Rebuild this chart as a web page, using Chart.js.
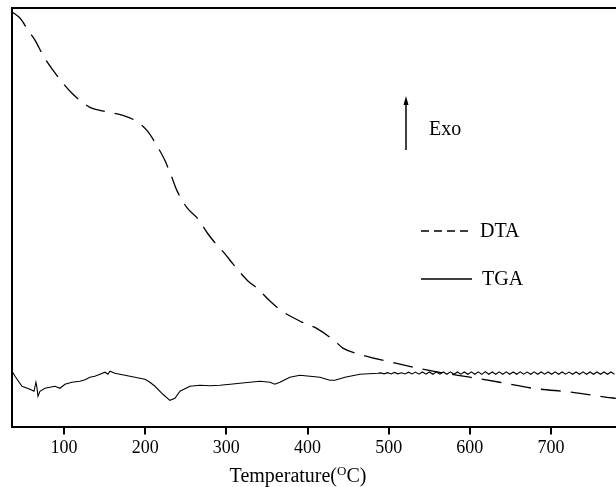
<!DOCTYPE html>
<html>
<head>
<meta charset="utf-8">
<script src="https://cdn.jsdelivr.net/npm/chart.js@4.4.1/dist/chart.umd.min.js"></script>
<style>
  html, body { margin: 0; padding: 0; background: #fff; }
  #wrap { width: 616px; height: 487px; position: relative; }
</style>
</head>
<body>
<div id="wrap"><canvas id="c" width="616" height="487"></canvas></div>
<script>
// ---- data (arbitrary signal units) ----
const tickValues = [100, 200, 300, 400, 500, 600, 700];
const xTitle = ['Temperature(', 'O', 'C)'];
const annotationText = 'Exo';

const dtaTemp = [36, 45.8, 55.7, 64.3, 74.1, 86.5, 98.8, 109.9, 119.7, 132.0,
  144.3, 156.6, 172.7, 187.4, 202.2, 215.8, 224.4, 233.0, 239.2, 251.5,
  263.8, 277.3, 286.0, 298.3, 308.1, 326.6, 337.7, 353.7, 368.5, 393.1,
  412.8, 433.7, 443.6, 468.2, 513.8, 554.4, 600.0, 636.9, 677.6, 726.8,
  768.7, 779.8];
const dtaSignal = [414, 408, 396, 386, 371, 356, 343, 333, 326, 319,
  316, 314, 311, 306, 296, 279, 266, 249, 236, 219,
  209, 193, 184, 173, 163, 146, 139, 126, 116, 105,
  98, 86, 79, 72, 63, 56, 50, 45, 39, 35,
  30, 29];

const tgaTemp = [36, 39.7, 48.3, 58.1, 63.1, 65.5, 66.7, 68.0, 70.4, 76.6,
  82.8, 88.9, 95.1, 101.2, 109.9, 119.7, 126.0, 132.0, 138.0, 144.3, 150.5, 154.2,
  156.6, 162.8, 168.9, 187.4, 199.7, 205.9, 212.1, 221.9, 230.5, 236.7,
  242.9, 255.2, 267.5, 280.0, 292.1, 305.0, 316.7, 329.0, 341.4, 353.7, 359.8, 366.0, 378.3,
  390.6, 403.0, 415.3, 427.6, 433.7, 446.1, 464.5, 486.7,
  490.0, 494.3, 498.6, 502.9, 507.2, 511.5, 515.8, 520.1, 524.4, 528.7,
  533.0, 537.3, 541.6, 545.9, 550.2, 554.5, 558.8, 563.1, 567.4, 571.7,
  576.0, 580.3, 584.6, 588.9, 593.2, 597.5, 601.8, 606.1, 610.4, 614.7,
  619.0, 623.3, 627.6, 631.9, 636.2, 640.5, 644.8, 649.1, 653.4, 657.7,
  662.0, 666.3, 670.6, 674.9, 679.2, 683.5, 687.8, 692.1, 696.4, 700.7,
  705.0, 709.3, 713.6, 717.9, 722.2, 726.5, 730.8, 735.1, 739.4, 743.7,
  748.0, 752.3, 756.6, 760.9, 765.2, 769.5, 773.8, 778.1];
const tgaSignal = [56, 51, 41, 38, 36, 45, 40, 31, 36, 39,
  40, 41, 39, 43, 45, 46, 47.5, 50, 51, 53, 55, 53,
  56, 54, 53, 50, 48, 45, 41, 33, 27, 29,
  36, 41, 42, 41.5, 42, 43, 44, 45, 46, 45, 43, 45, 50,
  52, 51, 50, 47, 47, 50, 53, 54,
  54.3, 53.4, 54.6, 53.3, 54.8, 53.4, 54.5, 53.2, 55.0, 53.3,
  55.1, 53.1, 55.2, 53.0, 55.2, 53.0, 55.3, 53.1, 55.2, 53.0,
  55.3, 52.9, 55.2, 53.0, 55.2, 52.9, 55.3, 53.0, 55.4, 52.9,
  55.6, 53.0, 55.2, 52.9, 55.3, 53.0, 55.3, 52.9, 55.2, 52.9,
  55.3, 53.0, 55.1, 52.9, 55.3, 52.9, 55.2, 53.0, 55.2, 52.9,
  55.3, 52.9, 55.2, 53.0, 55.1, 52.9, 55.2, 52.9, 55.3, 53.0,
  55.2, 52.9, 55.2, 52.9, 55.2, 52.9, 55.2, 53.0];

const seriesLabels = ['DTA', 'TGA'];

// ---- chart ----
const SERIF = '"Liberation Serif", "Times New Roman", serif';

const toPoints = (xs, ys) => xs.map((x, i) => ({ x: x, y: ys[i] }));

const decorPlugin = {
  id: 'decor',
  afterDraw(chart) {
    const ctx = chart.ctx;
    const a = chart.chartArea;
    ctx.save();
    // top frame line
    ctx.strokeStyle = '#000';
    ctx.lineWidth = 2;
    ctx.beginPath();
    ctx.moveTo(a.left - 1, a.top);
    ctx.lineTo(a.right, a.top);
    ctx.stroke();

    // Exo arrow
    ctx.lineWidth = 1.5;
    ctx.beginPath();
    ctx.moveTo(406, 150);
    ctx.lineTo(406, 101);
    ctx.stroke();
    ctx.fillStyle = '#000';
    ctx.beginPath();
    ctx.moveTo(406, 96);
    ctx.lineTo(403.5, 105);
    ctx.lineTo(408.5, 105);
    ctx.closePath();
    ctx.fill();
    ctx.font = '20px ' + SERIF;
    ctx.textBaseline = 'middle';
    ctx.textAlign = 'left';
    ctx.fillText(annotationText, 429, 130);

    // legend from datasets
    const rows = [231, 279];
    chart.data.datasets.forEach((ds, i) => {
      const y = rows[i];
      ctx.lineWidth = 1.5;
      ctx.setLineDash(ds.borderDash && ds.borderDash.length ? [8, 5] : []);
      ctx.beginPath();
      ctx.moveTo(421, y);
      ctx.lineTo(472, y);
      ctx.stroke();
      ctx.setLineDash([]);
      ctx.fillText(ds.label, i === 0 ? 480 : 482, y + 1);
    });

    // x axis title with superscript
    const big = '20px ' + SERIF, small = '13px ' + SERIF;
    ctx.font = big;
    const w1 = ctx.measureText(xTitle[0]).width;
    const w3 = ctx.measureText(xTitle[2]).width;
    ctx.font = small;
    const w2 = ctx.measureText(xTitle[1]).width;
    const total = w1 + w2 + w3;
    let x = 298 - total / 2;
    const base = 482;
    ctx.textBaseline = 'alphabetic';
    ctx.font = big;
    ctx.fillText(xTitle[0], x, base);
    x += w1;
    ctx.font = small;
    ctx.fillText(xTitle[1], x, base - 7);
    x += w2;
    ctx.font = big;
    ctx.fillText(xTitle[2], x, base);
    ctx.restore();
  }
};

new Chart(document.getElementById('c'), {
  type: 'line',
  data: {
    datasets: [
      {
        label: seriesLabels[0],
        data: toPoints(dtaTemp, dtaSignal),
        borderColor: '#000',
        borderWidth: 1.3,
        borderDash: [20, 10],
        pointRadius: 0,
        cubicInterpolationMode: 'monotone',
        fill: false
      },
      {
        label: seriesLabels[1],
        data: toPoints(tgaTemp, tgaSignal),
        borderColor: '#000',
        borderWidth: 1.1,
        pointRadius: 0,
        tension: 0,
        fill: false
      }
    ]
  },
  options: {
    responsive: false,
    animation: false,
    devicePixelRatio: 1,
    layout: { padding: { left: 12, top: 8, right: 0, bottom: 25 } },
    plugins: {
      legend: { display: false },
      tooltip: { enabled: false },
      title: { display: false }
    },
    scales: {
      x: {
        type: 'linear',
        min: 36,
        max: 780,
        afterBuildTicks(scale) {
          scale.ticks = tickValues.map(v => ({ value: v }));
        },
        grid: {
          display: true,
          drawOnChartArea: false,
          drawTicks: true,
          tickLength: 7,
          color: '#000',
          lineWidth: 2
        },
        border: { display: true, color: '#000', width: 2 },
        ticks: {
          color: '#000',
          padding: 3,
          maxRotation: 0,
          font: { family: SERIF, size: 18 }
        },
        title: { display: false }
      },
      y: {
        type: 'linear',
        min: 0,
        max: 418,
        grid: { display: false, drawTicks: false },
        border: { display: true, color: '#000', width: 2 },
        ticks: { display: false },
        title: { display: false }
      }
    }
  },
  plugins: [decorPlugin]
});
</script>
</body>
</html>
